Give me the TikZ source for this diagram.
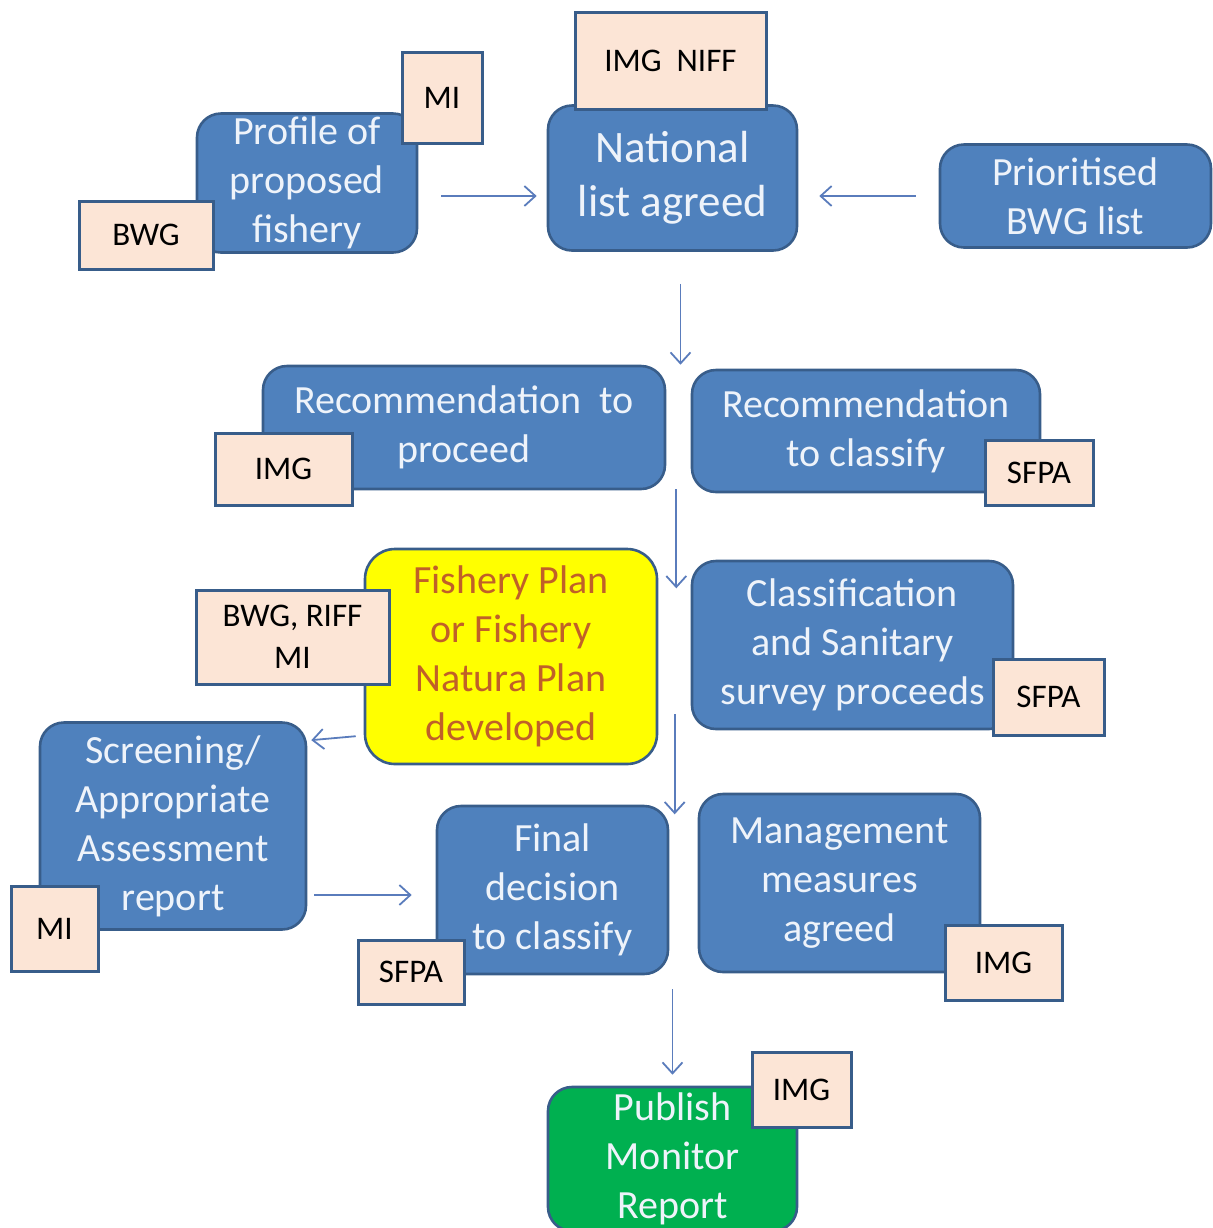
\documentclass[tikz,border=0pt]{standalone}
\usepackage{fontspec}
\setmainfont{Carlito}
\usepackage{tikz}
\usetikzlibrary{arrows.meta}
\definecolor{boxblue}{RGB}{79,129,189}
\definecolor{edgeblue}{RGB}{56,93,138}
\definecolor{boxtext}{RGB}{238,243,250}
\definecolor{tagfill}{RGB}{252,229,214}
\definecolor{planfill}{RGB}{255,255,0}
\definecolor{plantext}{RGB}{192,96,40}
\definecolor{pubgreen}{RGB}{0,176,80}
\definecolor{arrowblue}{RGB}{90,124,188}

\begin{document}
\begin{tikzpicture}[x=0.5pt,y=-0.5pt,
  stage/.style={draw=edgeblue,line width=1.3pt,fill=boxblue,rounded corners=12pt,
    text=boxtext,align=center,inner sep=0pt,font=\fontsize{20}{24.5}\selectfont},
  tag/.style={draw=edgeblue,line width=1.5pt,fill=tagfill,align=center,inner sep=0pt,
    font=\fontsize{16.5}{21}\selectfont},
  flow/.style={draw=arrowblue,line width=0.9pt,-{Straight Barb[length=5.5pt,width=10pt]}}]
  \useasboundingbox (0,0) rectangle (1213,1228);

  \node[stage,minimum width=110pt,minimum height=69.5pt] (profile) at (307,183) {Profile of\\proposed\\fishery};
  \node[tag,minimum width=40pt,minimum height=45.5pt] (profmi) at (442,97.5) {MI};
  \node[tag,minimum width=67pt,minimum height=34pt] (profbwg) at (146,235) {BWG};

  \node[stage,minimum width=124.5pt,minimum height=72.5pt,font=\fontsize{22.5}{27}\selectfont] (national) at (672.5,178) {National\\list agreed};
  \node[tag,minimum width=95.5pt,minimum height=48.5pt] (natimg) at (670.5,60.5) {IMG~~NIFF};

  \node[stage,minimum width=135.5pt,minimum height=51.5pt] (prio) at (1075.5,196) {Prioritised\\BWG list};

  \node[stage,minimum width=201pt,minimum height=61.5pt] (recp) at (464,427.5) {Recommendation~~to\\proceed};
  \node[tag,minimum width=68.5pt,minimum height=36pt] (recpimg) at (283.5,469) {IMG};

  \node[stage,minimum width=174pt,minimum height=61pt] (recc) at (866,431) {Recommendation\\to classify};
  \node[tag,minimum width=54pt,minimum height=32.5pt] (reccsfpa) at (1039,472.5) {SFPA};

  \node[stage,minimum width=146pt,minimum height=107.5pt,fill=planfill,text=plantext,rounded corners=15pt] (plan) at (511,656.5) {Fishery Plan\\or Fishery\\Natura Plan\\developed};
  \node[tag,minimum width=96.5pt,minimum height=47pt] (planbwg) at (292.5,637) {BWG, RIFF\\MI};

  \node[stage,minimum width=160.5pt,minimum height=84pt] (clas) at (852.5,645) {Classification\\and Sanitary\\survey proceeds};
  \node[tag,minimum width=55.5pt,minimum height=38pt] (classfpa) at (1048.5,697) {SFPA};

  \node[stage,minimum width=133pt,minimum height=103.5pt] (scr) at (173,826) {Screening/\\Appropriate\\Assessment\\report};
  \node[tag,minimum width=43.5pt,minimum height=42.5pt] (scrmi) at (54.5,928.5) {MI};

  \node[stage,minimum width=115.5pt,minimum height=84pt] (fin) at (552.5,890) {Final\\decision\\to classify};
  \node[tag,minimum width=53pt,minimum height=32pt] (finsfpa) at (411,972) {SFPA};

  \node[stage,minimum width=140.5pt,minimum height=89pt] (man) at (839.5,883) {Management\\measures\\agreed};
  \node[tag,minimum width=58.5pt,minimum height=37.5pt] (manimg) at (1003.5,962.5) {IMG};

  \node[stage,minimum width=124.5pt,minimum height=72pt,fill=pubgreen] (pub) at (672.5,1159) {Publish\\Monitor\\Report};
  \node[tag,minimum width=49.5pt,minimum height=37.5pt] (pubimg) at (801.5,1089.5) {IMG};

  \draw[flow,shorten <=11.5pt,shorten >=5pt] ([yshift=-6.5pt]profile.east) -- ([yshift=-6.5pt]profile.east -| national.west);
  \draw[flow,shorten <=11.5pt,shorten >=10.5pt] (prio.west) -- (prio.west -| national.east);
  \draw[flow,shorten <=16pt] ([xshift=4pt]national.south) -- ([xshift=4pt]national.south |- recp.north);
  \draw[flow] ([xshift=5pt,yshift=0.5pt]recp.south east) -- ++(0,99);
  \draw[flow] ([xshift=-8pt,yshift=8pt]clas.south west) -- ++(0,100);
  \draw[flow,shorten <=4pt,shorten >=2pt] ([yshift=-39.5pt]plan.west) -- ([yshift=-42pt]plan.west -| scr.east);
  \draw[flow,shorten <=3.5pt,shorten >=12pt] ([yshift=-34.5pt]scr.east) -- ([yshift=-34.5pt]scr.east -| fin.west);
  \draw[flow,shorten <=7pt,shorten >=5.5pt] (fin.south east -| pub.north) -- (pub.north);
\end{tikzpicture}
\end{document}
